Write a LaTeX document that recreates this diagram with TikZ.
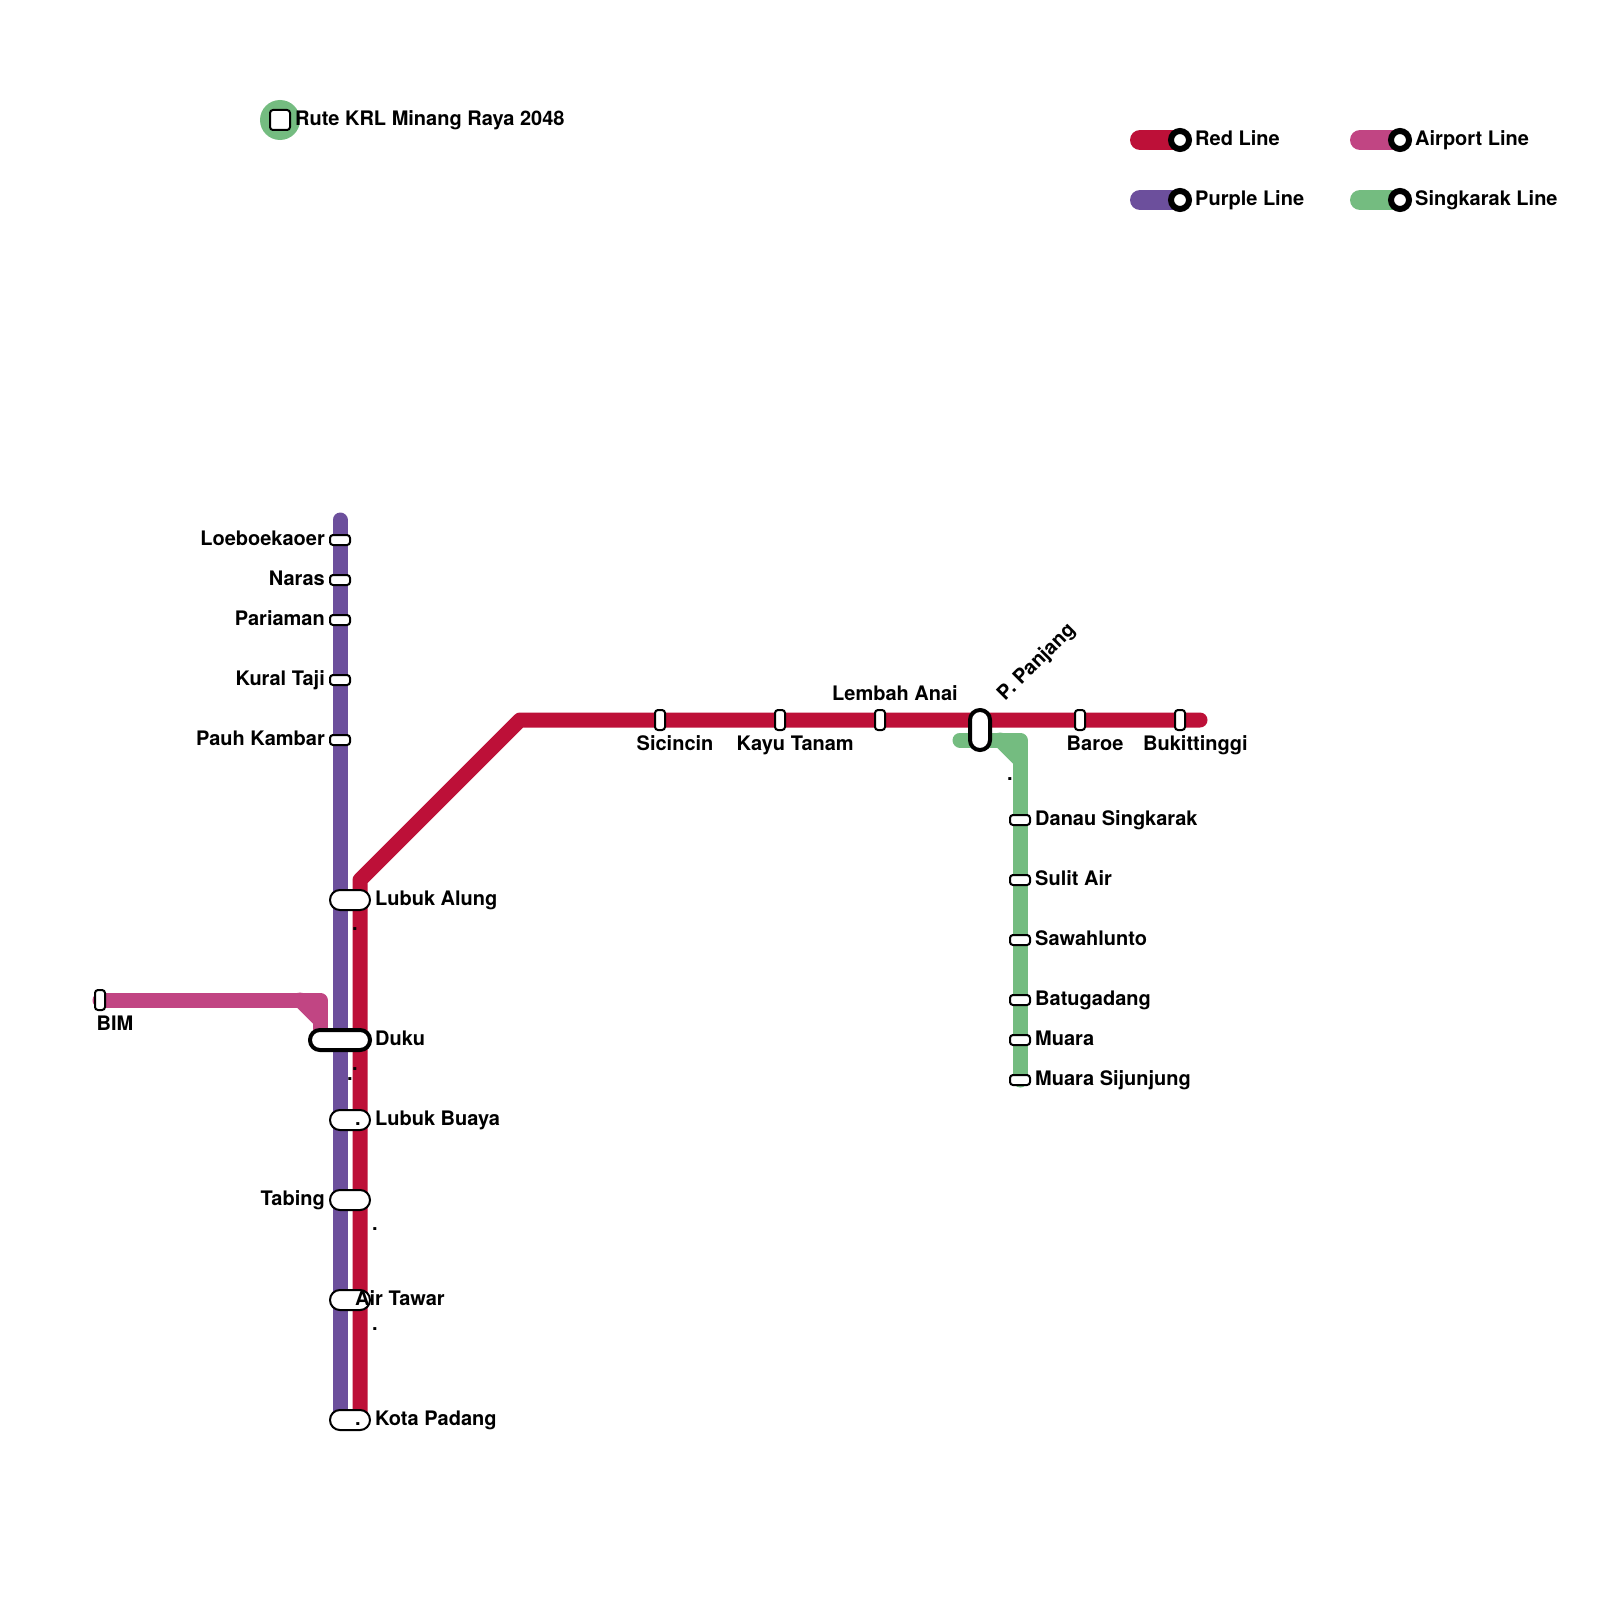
\documentclass[tikz,border=0pt]{standalone}
\usepackage{fontspec}
\setmainfont{TeX Gyre Heros}
\definecolor{redl}{HTML}{BD1038}
\definecolor{purl}{HTML}{6C4F9C}
\definecolor{pinl}{HTML}{C14583}
\definecolor{grel}{HTML}{74BC80}
\tikzset{
 line/.style={line width=15pt,line cap=round,line join=round},
 leg/.style={line width=20pt,line cap=round},
 sta/.style={draw=black,fill=white,line width=2pt,inner sep=0pt,outer sep=0pt,rectangle,rounded corners=3pt},
 hp/.style={sta,minimum width=20pt,minimum height=10pt},
 vp/.style={sta,minimum width=10pt,minimum height=20pt},
 wp/.style={sta,minimum width=40pt,minimum height=20pt,rounded corners=9.9pt},
 ring/.style={circle,draw=black,fill=white,line width=6pt,minimum size=18pt,inner sep=0pt},
 lab/.style={font=\fontsize{20}{24}\bfseries\selectfont,inner sep=0pt,text=black},
 labr/.style={lab,anchor=base west},
 labl/.style={lab,anchor=base east},
 dotm/.style={lab,anchor=base},
}
\begin{document}
\begin{tikzpicture}[x=1pt,y=-1pt]
\useasboundingbox (0,0) rectangle (1600,1600);
\fill[white] (0,0) rectangle (1600,1600);
% routing points
\coordinate (pTop) at (340,520); \coordinate (pBot) at (340,1420);
\coordinate (rA) at (360,1420); \coordinate (rB) at (360,880); \coordinate (rC) at (520,720); \coordinate (rD) at (1200,720);
\coordinate (aA) at (100,1000); \coordinate (aB) at (320,1000); \coordinate (aC) at (320,1040); \coordinate (aD) at (300,1000); \coordinate (aE) at (320,1020);
\coordinate (gA) at (960,740); \coordinate (gB) at (1020,740); \coordinate (gC) at (1020,1080); \coordinate (gD) at (1000,740); \coordinate (gE) at (1020,760);
% lines
\draw[line,purl] (pTop) -- (pBot);
\draw[line,redl] (rA) -- (rB) -- (rC) -- (rD);
\draw[line,pinl] (aA) -- (aB) -- (aC);
\draw[line,pinl] (aD) -- (aE);
\draw[line,grel] (gA) -- (gB) -- (gC);
\draw[line,grel] (gD) -- (gE);
% stations purple
\node[hp] (s1) at (340,540) {}; \node[labl] at (325,545) {Loeboekaoer};
\node[hp] (s2) at (340,580) {}; \node[labl] at (325,585) {Naras};
\node[hp] (s3) at (340,620) {}; \node[labl] at (325,625) {Pariaman};
\node[hp] (s4) at (340,680) {}; \node[labl] at (325,685) {Kural Taji};
\node[hp] (s5) at (340,740) {}; \node[labl] at (325,745) {Pauh Kambar};
\node[wp] (s6) at (350,900) {}; \node[labr] at (375,905) {Lubuk Alung};
\node[wp,minimum width=60pt,line width=4pt] (s7) at (340,1040) {}; \node[labr] at (375,1045) {Duku};
\node[wp] (s8) at (350,1120) {}; \node[labr] at (375,1125) {Lubuk Buaya};
\node[wp] (s9) at (350,1200) {}; \node[labl] at (325,1205) {Tabing};
\node[wp] (s10) at (350,1300) {}; \node[labr] at (355,1305) {Air Tawar};
\node[wp] (s11) at (350,1420) {}; \node[labr] at (375,1425) {Kota Padang};
% airport
\node[vp] (b1) at (100,1000) {}; \node[labr] at (96.5,1030) {BIM};
% red
\node[vp] (r1) at (660,720) {}; \node[labr] at (636.5,750) {Sicincin};
\node[vp] (r2) at (780,720) {}; \node[labr] at (736.5,750) {Kayu Tanam};
\node[vp] (r3) at (880,720) {}; \node[labr] at (832,700) {Lembah Anai};
\node[sta,minimum width=20pt,minimum height=40pt,line width=4pt,rounded corners=9.9pt] (r4) at (980,730) {};
\node[labr,rotate=45] at (1005,702) {P. Panjang};
\node[vp] (r5) at (1080,720) {}; \node[labr] at (1066.5,750) {Baroe};
\node[vp] (r6) at (1180,720) {}; \node[labr] at (1143,750) {Bukittinggi};
% green
\node[hp] (g1) at (1020,820) {}; \node[labr] at (1035,825) {Danau Singkarak};
\node[hp] (g2) at (1020,880) {}; \node[labr] at (1035,885) {Sulit Air};
\node[hp] (g3) at (1020,940) {}; \node[labr] at (1035,945) {Sawahlunto};
\node[hp] (g4) at (1020,1000) {}; \node[labr] at (1035,1005) {Batugadang};
\node[hp] (g5) at (1020,1040) {}; \node[labr] at (1035,1045) {Muara};
\node[hp] (g6) at (1020,1080) {}; \node[labr] at (1035,1085) {Muara Sijunjung};
% small dots
\node[dotm] (d1) at (355,930) {.};
\node[dotm] (d2) at (355,1070) {.};
\node[dotm] (d3) at (350,1080) {.};
\node[dotm] (d4) at (358,1125) {.};
\node[dotm] (d5) at (375,1230) {.};
\node[dotm] (d6) at (375,1330) {.};
\node[dotm] (d7) at (358,1425) {.};
\node[dotm] (d8) at (1010,780) {.};
% title
\node[circle,fill=grel,minimum size=40pt,inner sep=0pt] (tc) at (280,120) {};
\node[sta,minimum width=20pt,minimum height=20pt] (ts) at (280,120) {};
\node[labr] (tt) at (295,125) {Rute KRL Minang Raya 2048};
% legend
\coordinate (l1a) at (1140,140); \coordinate (l1b) at (1180,140);
\coordinate (l2a) at (1140,200); \coordinate (l2b) at (1180,200);
\coordinate (l3a) at (1360,140); \coordinate (l3b) at (1400,140);
\coordinate (l4a) at (1360,200); \coordinate (l4b) at (1400,200);
\draw[leg,redl] (l1a) -- (l1b);
\draw[leg,purl] (l2a) -- (l2b);
\draw[leg,pinl] (l3a) -- (l3b);
\draw[leg,grel] (l4a) -- (l4b);
\node[ring] (m1) at (l1b) {};
\node[ring] (m2) at (l2b) {};
\node[ring] (m3) at (l3b) {};
\node[ring] (m4) at (l4b) {};
\node[labr] at (1195,145.5) {Red Line};
\node[labr] at (1195,205) {Purple Line};
\node[labr] at (1415,145.5) {Airport Line};
\node[labr] at (1415,205) {Singkarak Line};
\end{tikzpicture}
\end{document}
